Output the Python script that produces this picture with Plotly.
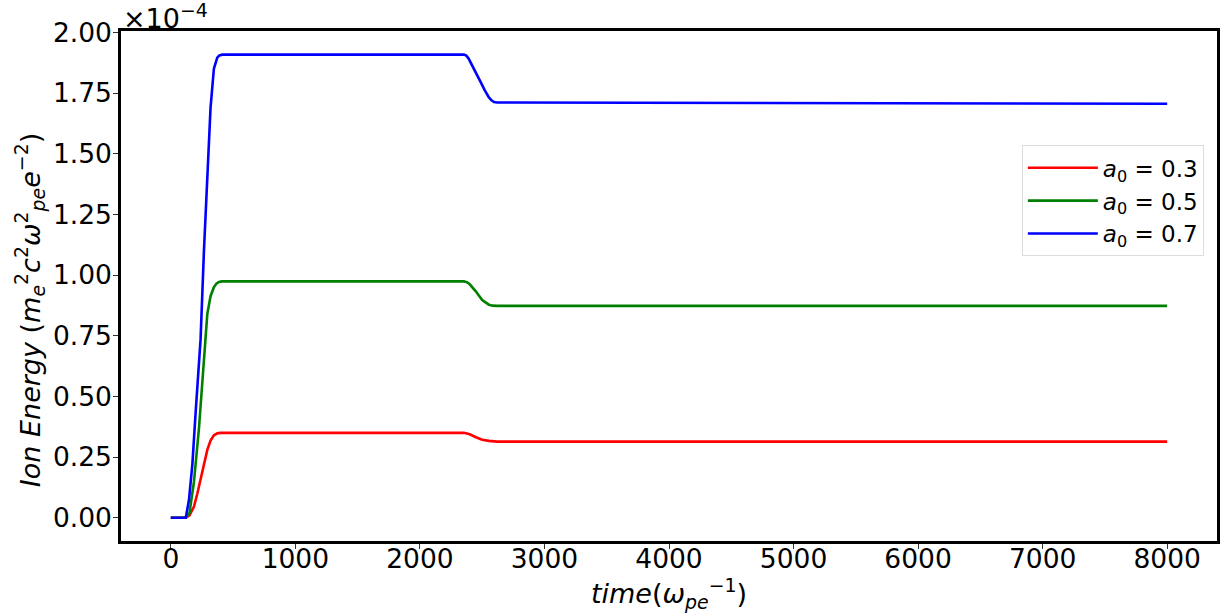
import plotly.graph_objects as go

# values in units of 1e-4 (m_e^2 c^2 w_pe^2 e^-2)
t_red = [0, 120, 150, 186, 213, 239, 266, 293, 319, 346, 373, 400, 2354, 2380, 2400, 2450, 2500, 2554, 2590, 2620, 8000]
e_red = [0, 0, 0.01, 0.046, 0.10, 0.163, 0.225, 0.28, 0.318, 0.340, 0.348, 0.350, 0.350, 0.348, 0.344, 0.332, 0.322, 0.317, 0.315, 0.314, 0.314]

t_green = [0, 120, 150, 186, 226, 266, 293, 319, 346, 366, 386, 410, 2354, 2380, 2400, 2447, 2500, 2554, 2585, 2620, 8000]
e_green = [0, 0, 0.02, 0.149, 0.369, 0.663, 0.84, 0.913, 0.950, 0.965, 0.972, 0.974, 0.974, 0.970, 0.962, 0.934, 0.897, 0.878, 0.874, 0.873, 0.873]

t_blue = [0, 120, 146, 173, 200, 239, 266, 293, 319, 346, 360, 373, 390, 413, 2354, 2372, 2390, 2410, 2430, 2447, 2488, 2520, 2554, 2575, 2595, 2620, 4700, 8000]
e_blue = [0, 0, 0.075, 0.22, 0.44, 0.736, 1.10, 1.426, 1.69, 1.851, 1.880, 1.896, 1.905, 1.908, 1.908, 1.904, 1.893, 1.874, 1.851, 1.834, 1.795, 1.762, 1.732, 1.720, 1.713, 1.711, 1.710, 1.706]

labels = ["<i>a</i><sub>0</sub> = 0.3", "<i>a</i><sub>0</sub> = 0.5", "<i>a</i><sub>0</sub> = 0.7"]
x_ticks = [0, 1000, 2000, 3000, 4000, 5000, 6000, 7000, 8000]
y_ticks = [0, 0.25, 0.5, 0.75, 1.0, 1.25, 1.5, 1.75, 2.0]

FONT = "DejaVu Sans"

fig = go.Figure()
for t, e, c, name in [(t_red, e_red, "#ff0000", labels[0]),
                      (t_green, e_green, "#008000", labels[1]),
                      (t_blue, e_blue, "#0000ff", labels[2])]:
    fig.add_trace(go.Scatter(x=t, y=e, mode="lines", name=name,
                             line=dict(color=c, width=2.6)))

axis_common = dict(showline=True, linewidth=2.5, linecolor="black", mirror=True,
                   ticks="outside", ticklen=5, tickwidth=1.2, tickcolor="#333",
                   showgrid=False, zeroline=False,
                   tickfont=dict(family=FONT, size=26.5, color="black"))

fig.update_layout(
    width=1230, height=615,
    margin=dict(l=121, r=10, t=31, b=74),
    paper_bgcolor="white", plot_bgcolor="white",
    font=dict(family=FONT, color="black"),
    xaxis=dict(range=[-400, 8400], tickvals=x_ticks, ticklabelstandoff=-13,
               title=dict(text="<i>time</i>(<i>ω<sub>pe</sub></i><sup>−1</sup>)",
                          font=dict(family=FONT, size=27), standoff=10),
               **axis_common),
    yaxis=dict(range=[-0.0955, 2.0055], tickvals=y_ticks, tickformat=".2f", ticklabelstandoff=-4,
               **axis_common),
    legend=dict(x=0.988, y=0.776, xanchor="right", yanchor="top",
                bordercolor="#dddddd", borderwidth=1, bgcolor="rgba(255,255,255,0.8)",
                font=dict(family=FONT, size=23), tracegroupgap=0, itemwidth=70),
    showlegend=True,
)

# y-axis title (placed as in the reference, slightly below the axis centre)
fig.add_annotation(x=-0.0828, y=0.453, xref="paper", yref="paper", xanchor="center", yanchor="middle",
                   textangle=-90, showarrow=False,
                   text="<i>Ion Energy</i> (<i>m<sub>e</sub></i><sup>2</sup><i>c</i><sup>2</sup><i>ω</i><sup>2</sup><sub><i>pe</i></sub><i>e</i><sup>−2</sup>)",
                   font=dict(family=FONT, size=27, color="black"))

fig.add_annotation(x=0, y=1.0, xref="paper", yref="paper", xanchor="left", yanchor="bottom",
                   text="×10<sup>−4</sup>", showarrow=False, yshift=-5,
                   font=dict(family=FONT, size=27, color="black"))

fig.write_html("out.html")
